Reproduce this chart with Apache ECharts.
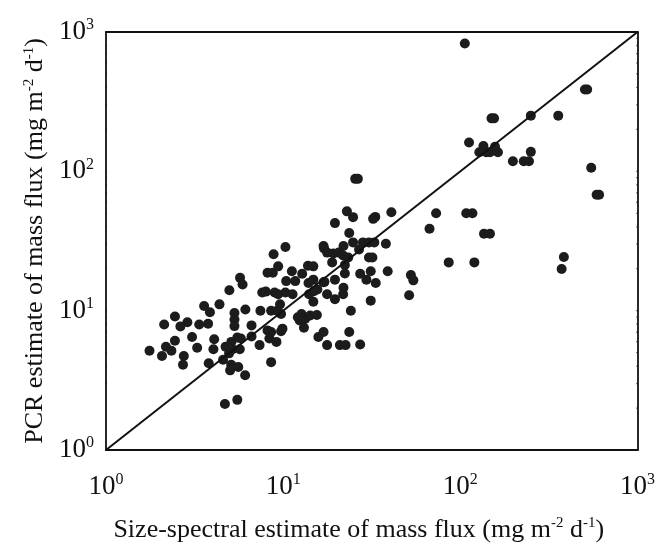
<!DOCTYPE html>
<html><head><meta charset="utf-8">
<script src="https://cdn.jsdelivr.net/npm/echarts@6/dist/echarts.min.js"></script>
<style>html,body{margin:0;padding:0;background:#fff}#c{width:658px;height:548px}</style>
</head><body><div id="c"></div>
<script>
const xVals = [106,505,520,150,155,250,357,112,135,128,140,147,157,163,198,228,244,250,548,588,607,108,117,73,67,136,147,86,120,384,373,
25.5,26.4,22.9,24.8,32.2,33.1,40.8,19.6,23.6,16.9,17.0,21.9,24.8,28.2,30.5,32.7,38.0,17.7,19.2,20.6,21.8,23.3,26.8,30.5,31.9,22.3,18.9,31.2,27.2,22.3,29.5,33.3,38.9,19.6,16.9,21.9,21.8,19.6,17.7,31.2,24.1,51.4,52.6,54.3,23.6,20.9,22.5,27.2,17.7,16.9,15.8,
10.3,8.83,9.37,8.16,8.74,10.4,11.2,11.7,12.8,13.8,14.8,13.9,14.8,14.0,14.9,15.6,14.8,17.1,7.62,7.98,8.95,9.37,10.3,11.3,9.6,8.55,9.25,9.73,7.44,12.1,12.7,13.3,14.2,15.5,12.4,13.1,8.16,8.55,9.73,9.91,8.36,9.16,7.36,8.55,
6.12,5.31,5.31,5.31,6.63,4.97,5.71,5.9,4.37,3.58,3.86,3.36,3.77,2.88,2.63,2.45,2.13,3.06,2.45,2.18,2.34,1.76,2.07,2.75,2.72,3.27,4.08,4.04,3.8,4.58,4.73,5.1,5.51,5.77,5.19,5.69,4.95,5.09,5.02,5.58,6.1,4.69,5.51,6.63];
const yVals = [828,387,387,240,240,251,251,161,152,137,137,137,150,137,118,118,118,138,106,68,68,50,50,50,38.7,35.7,35.7,22.2,22.2,24.3,19.9,
88.3,88.3,51.6,46.9,45.6,47.1,50.8,42.5,36.1,29.1,28.0,29.1,30.9,30.9,30.9,30.9,30.2,26.1,25.7,26.1,24.9,24.1,27.5,24.1,24.1,21.3,22.2,19.2,18.4,18.5,16.7,15.8,19.2,16.7,16.0,14.6,13.1,12.1,13.1,11.8,10.0,12.9,18.0,16.5,7.03,5.66,5.66,5.72,5.66,7.03,6.48,
28.6,25.4,20.8,18.7,18.7,16.3,19.2,16.3,18.4,21.0,20.8,15.8,16.7,13.1,13.8,14.2,11.6,16.1,13.5,13.7,13.5,13.1,13.5,13.1,11.1,10.0,10.0,9.47,10.0,8.97,9.47,8.73,9.22,9.3,8.5,7.55,7.22,7.03,7.11,7.43,6.31,5.97,5.66,4.27,
10.2,9.63,8.63,7.75,7.84,14.0,17.2,15.4,11.1,10.8,9.73,7.96,8.05,8.27,7.71,9.07,7.96,6.48,6.08,5.51,5.16,5.16,4.73,4.73,4.09,5.42,6.24,5.28,4.2,4.44,5.51,5.97,6.41,6.31,5.28,5.28,4.94,4.09,3.73,3.94,3.44,2.14,2.29,6.53];
const lineX = [1, 1000];
const lineY = [1, 1000];
const axisMin = 1, axisMax = 1000;
const majorTickVals = [1, 10, 100, 1000];
const minorTickVals = [2, 3, 4, 5, 6, 7, 8, 9, 20, 30, 40, 50, 60, 70, 80, 90, 200, 300, 400, 500, 600, 700, 800, 900];

const FONT = 'Liberation Serif';
const supFmt = v => '{b|10}{s|' + Math.round(Math.log10(v)) + '}';
const labelRich = {
  b: {fontSize: 27, fontFamily: FONT, color: '#111'},
  s: {fontSize: 16, fontFamily: FONT, color: '#111', padding: [0, 0, 14, 0]}
};
const nameRich = {
  t: {fontSize: 26, fontFamily: FONT, color: '#111'},
  s: {fontSize: 15, fontFamily: FONT, color: '#111', padding: [0, 0, 13, 0]}
};
function base(pos) {
  return {type: 'log', min: axisMin, max: axisMax, gridIndex: 0, position: pos,
    axisLine: {show: true, onZero: false, lineStyle: {color: '#111', width: 1.8}},
    axisTick: {show: false},
    minorTick: {show: false},
    splitLine: {show: false}, minorSplitLine: {show: false}};
}
const xAxes = [
  Object.assign(base('bottom'), {
    axisLabel: {formatter: supFmt, rich: labelRich, margin: 22},
    name: '{t|Size-spectral estimate of mass flux (mg m}{s|-2}{t| d}{s|-1}{t|)}',
    nameLocation: 'middle', nameGap: 66,
    nameTextStyle: {rich: nameRich, padding: [0, 26, 0, 0]}
  }),
  Object.assign(base('top'), {axisLabel: {show: false}})
];
const yAxes = [
  Object.assign(base('left'), {
    axisLabel: {formatter: supFmt, rich: labelRich, margin: 12},
    name: '{t|PCR estimate of mass flux (mg m}{s|-2}{t| d}{s|-1}{t|)}',
    nameLocation: 'middle', nameGap: 54,
    nameTextStyle: {rich: nameRich}
  }),
  Object.assign(base('right'), {axisLabel: {show: false}})
];

// tick marks drawn through the axis scales: [value, tickLength]
const tickItems = majorTickVals.map(v => [v, 7]).concat(minorTickVals.map(v => [v, 4]));
const tickStyle = {stroke: '#111', lineWidth: 1.3};
function tickRender(params, api) {
  const v = api.value(0), len = api.value(1);
  const xb = api.coord([v, axisMin]);
  const xt = api.coord([v, axisMax]);
  const yl = api.coord([axisMin, v]);
  const yr = api.coord([axisMax, v]);
  return {type: 'group', children: [
    {type: 'line', shape: {x1: xb[0], y1: xb[1], x2: xb[0], y2: xb[1] - len}, style: tickStyle},
    {type: 'line', shape: {x1: xt[0], y1: xt[1], x2: xt[0], y2: xt[1] + len}, style: tickStyle},
    {type: 'line', shape: {x1: yl[0], y1: yl[1], x2: yl[0] + len, y2: yl[1]}, style: tickStyle},
    {type: 'line', shape: {x1: yr[0], y1: yr[1], x2: yr[0] - len, y2: yr[1]}, style: tickStyle}
  ]};
}

const chart = echarts.init(document.getElementById('c'));
chart.setOption({
  animation: false,
  backgroundColor: '#fff',
  grid: [{left: 106, top: 32, width: 532, height: 421}],
  xAxis: xAxes,
  yAxis: yAxes,
  series: [
    {type: 'custom', xAxisIndex: 0, yAxisIndex: 0, renderItem: tickRender, silent: true,
      data: tickItems.map(t => [t[0], 1, t[1]]), encode: {x: 0, y: 1},
      dimensions: ['v', 'y', 'len'],
      clip: false},
    {type: 'line', xAxisIndex: 0, yAxisIndex: 0, data: lineX.map((x, i) => [x, lineY[i]]), symbol: 'none',
      lineStyle: {color: '#111', width: 2}},
    {type: 'scatter', xAxisIndex: 0, yAxisIndex: 0, data: xVals.map((x, i) => [x, yVals[i]]), symbol: 'circle', symbolSize: 10,
      itemStyle: {color: '#1c1c1c', opacity: 1}}
  ]
});
</script></body></html>
